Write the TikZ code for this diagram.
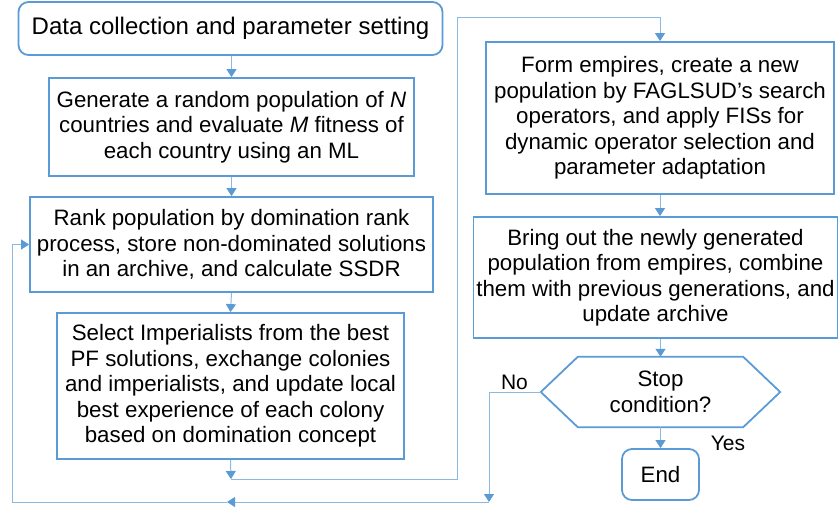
\documentclass[tikz,border=0pt]{standalone}
\usepackage{fontspec}
\setmainfont{Liberation Sans}
\usetikzlibrary{arrows.meta}
\definecolor{boxblue}{RGB}{91,155,213}
\definecolor{lineblue}{RGB}{140,184,228}
\tikzset{
  base/.style={inner sep=0pt, align=center, text=black,
    font=\fontsize{22.3}{25.5}\selectfont},
  procbox/.style={base, draw=boxblue, line width=1.8pt},
  termbox/.style={procbox, rounded corners=10pt},
  conn/.style={draw=lineblue, line width=1pt,
    -{Triangle[width=10pt,length=8pt,fill=boxblue,color=boxblue]}},
  lbl/.style={base, font=\fontsize{21}{24}\selectfont}
}
\begin{document}
\begin{tikzpicture}[x=1pt,y=-1pt]
\useasboundingbox (0,0) rectangle (839,509);

% left column
\node[termbox, minimum width=424pt, minimum height=53pt, font=\fontsize{24}{26}\selectfont]
  (start) at (230.5,28.5) {Data collection and parameter setting};
\node[procbox, minimum width=365pt, minimum height=98pt]
  (gen) at (231.5,127) {Generate a random population of \textit{N}\\
  countries and evaluate \textit{M} fitness of\\ each country using an ML};
\node[procbox, minimum width=403pt, minimum height=95pt]
  (rank) at (231.5,244.5) {Rank population by domination rank\\
  process, store non-dominated solutions\\ in an archive, and calculate SSDR};
\node[procbox, minimum width=347pt, minimum height=146pt]
  (sel) at (230.5,386) {Select Imperialists from the best\\
  PF solutions, exchange colonies\\ and imperialists, and update local\\
  best experience of each colony\\ based on domination concept};

% right column
\node[procbox, minimum width=348pt, minimum height=152pt]
  (form) at (660,118) {Form empires, create a new\\
  population by FAGLSUD’s search\\ operators, and apply FISs for\\
  dynamic operator selection and\\ parameter adaptation};
\node[procbox, minimum width=364pt, minimum height=121pt]
  (bring) at (655.5,277.5) {Bring out the newly generated\\
  population from empires, combine\\ them with previous generations, and\\
  update archive};
\node[base, minimum width=239pt, minimum height=70pt]
  (stop) at (660.5,392) {Stop\\ condition?};
\draw[draw=boxblue, line width=1.8pt, line join=miter]
  (stop.west) -- ([xshift=37pt]stop.north west) -- ([xshift=-37pt]stop.north east)
  -- (stop.east) -- ([xshift=-37pt]stop.south east) -- ([xshift=37pt]stop.south west)
  -- cycle;
\node[termbox, minimum width=77pt, minimum height=51pt]
  (end) at (660.5,474.5) {End};

% labels
\node[lbl] (nolbl) at (514.5,382) {No};
\node[lbl] (yeslbl) at (728,443) {Yes};

% junction points of the loops
\coordinate (j1) at (231,479);
\coordinate (r1) at (457,479);
\coordinate (r2) at (457,17);
\coordinate (n1) at (489,502);
\coordinate (m1) at (227,502);
\coordinate (b1) at (12,502);

% connectors
\draw[conn] (start.south -| gen.north) -- (gen.north);
\draw[conn] (gen.south) -- (rank.north);
\draw[conn] (rank.south) -- (sel.north);
\draw[conn] (sel.south) -- (j1);
\draw[conn] (j1) -- (r1) -- (r2) -| (form.north);
\draw[conn] (form.south) -- (form.south |- bring.north);
\draw[conn] (stop.north |- bring.south) -- (stop.north);
\draw[conn] (stop.south) -- (end.north);
\draw[conn] (stop.west) -| (n1);
\draw[conn] (n1) -- (m1);
\draw[conn] (m1) -- (b1) |- (rank.west);
\end{tikzpicture}
\end{document}
